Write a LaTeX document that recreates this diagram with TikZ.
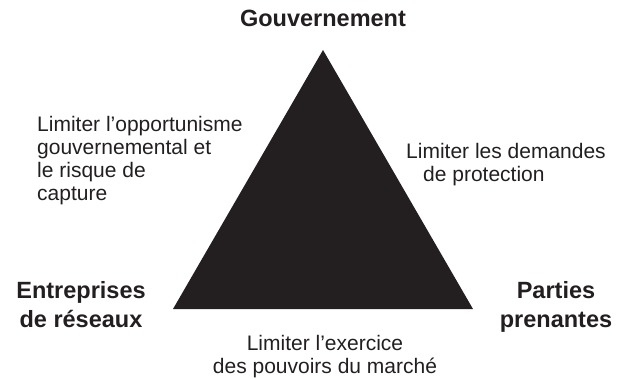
\documentclass[tikz,border=0pt]{standalone}
\usepackage{fontspec}
\setmainfont{Liberation Sans}
\usetikzlibrary{positioning}
\definecolor{ink}{HTML}{231F20}
\tikzstyle{actor}=[font=\fontsize{23.5}{29}\selectfont\bfseries, text=ink, align=center, inner sep=0pt]
\tikzstyle{aim}=[font=\fontsize{21}{23}\selectfont, text=ink, inner sep=0pt]

\begin{document}
\begin{tikzpicture}[x=1pt, y=-1pt]
  \useasboundingbox (0,0) rectangle (618,379);
  \coordinate (apex) at (323,50);
  \coordinate (bl) at (173,309);
  \coordinate (br) at (473,309);
  \fill[ink] (apex) -- (bl) -- (br) -- cycle;

  \node[actor, anchor=base] (gov) at (323,27) {Gouvernement};
  \node[actor, anchor=north] (firms) at (81,281) {Entreprises\\de réseaux};
  \node[actor, anchor=north] (stake) at (556,281) {Parties\\prenantes};

  \node[aim, align=left, anchor=north west] (opport) at (37,116)
    {Limiter l’opportunisme\\gouvernemental et\\le risque de\\capture};
  \node[aim, align=left, anchor=north west] (protect) at (406,143)
    {Limiter les demandes\\\hspace*{17pt}de protection};
  \node[aim, align=center, anchor=north] (market) at (325,335)
    {Limiter l’exercice\\des pouvoirs du marché};
\end{tikzpicture}
\end{document}
